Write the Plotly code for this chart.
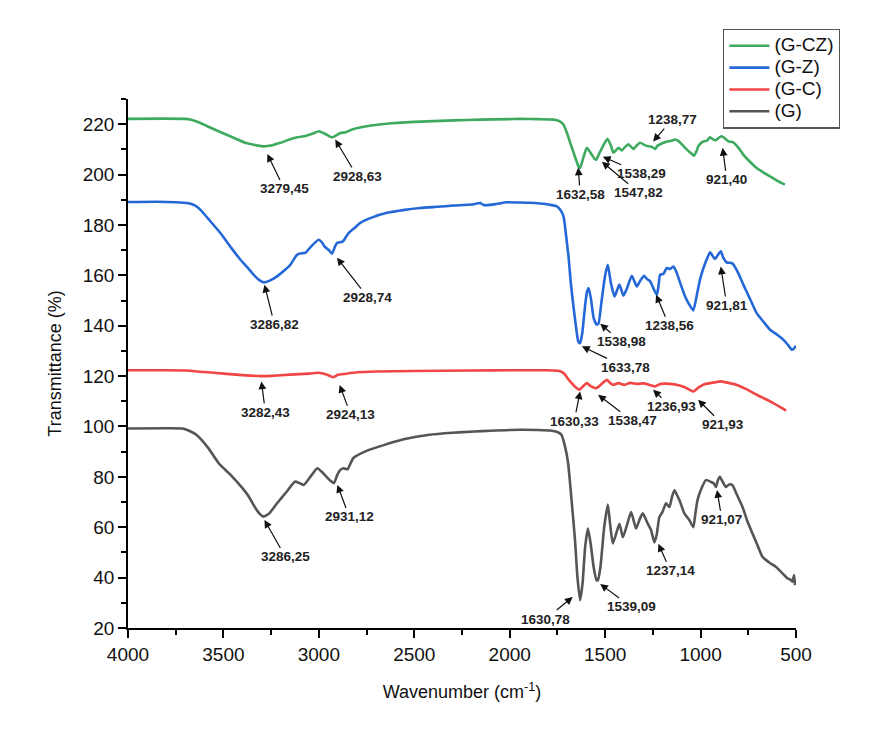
import numpy as np
import plotly.graph_objects as go

# ---------------- data ----------------
wn_gcz = [4000, 3800, 3700, 3670, 3620, 3585, 3520, 3446, 3380, 3320, 3289, 3250, 3202, 3150, 3114, 3071,
          3030, 3001, 2971, 2945, 2931, 2910, 2887, 2860, 2818, 2750, 2643, 2500, 2294, 2150, 2000, 1945,
          1850, 1771, 1740, 1718, 1700, 1683, 1660, 1640, 1632, 1615, 1596, 1575, 1555, 1547, 1530, 1510,
          1488, 1470, 1457, 1430, 1413, 1395, 1378, 1352, 1335, 1317, 1295, 1273, 1255, 1238, 1225, 1212,
          1190, 1169, 1150, 1134, 1115, 1098, 1072, 1050, 1034, 1020, 1012, 990, 967, 950, 935, 920, 905,
          889, 870, 855, 829, 800, 776, 740, 706, 670, 636, 600, 558]
t_gcz = [222.1, 222.2, 222.1, 221.8, 220.5, 219.2, 217.0, 214.6, 212.5, 211.5, 211.2, 211.5, 212.6, 214.0, 214.8, 215.3,
         216.3, 217.2, 216.3, 215.2, 214.8, 215.5, 216.5, 216.8, 218.1, 219.2, 220.2, 220.9, 221.5, 221.8, 222.0, 222.1,
         222.0, 221.8, 221.2, 219.8, 216.5, 212.6, 207.5, 203.3, 202.6, 206.5, 210.6, 208.5, 206.2, 205.9, 208.5, 211.5,
         214.2, 211.5, 208.7, 210.6, 209.6, 211.0, 212.0, 210.2, 211.5, 212.6, 211.8, 211.2, 211.0, 210.2, 211.5, 212.0,
         212.7, 213.2, 213.5, 213.9, 213.3, 212.0, 209.9, 208.5, 207.5, 209.5, 211.2, 213.0, 213.5, 214.8, 214.0, 213.6, 214.6,
         215.2, 214.2, 213.2, 212.8, 210.5, 207.9, 205.0, 202.6, 200.8, 199.3, 197.6, 196.0]

wn_gz = [4000, 3850, 3750, 3690, 3650, 3620, 3580, 3516, 3460, 3411, 3370, 3341, 3310, 3289, 3260, 3219,
         3180, 3149, 3114, 3090, 3071, 3040, 3001, 2985, 2971, 2945, 2931, 2915, 2905, 2885, 2873, 2860,
         2844, 2810, 2783, 2720, 2643, 2550, 2469, 2380, 2294, 2200, 2154, 2140, 2120, 2070, 2015, 1950,
         1900, 1840, 1790, 1753, 1735, 1718, 1705, 1692, 1680, 1666, 1650, 1640, 1631, 1620, 1605, 1595,
         1587, 1575, 1560, 1545, 1535, 1520, 1500, 1486, 1470, 1451, 1438, 1425, 1404, 1385, 1360, 1334,
         1315, 1296, 1280, 1264, 1245, 1229, 1220, 1212, 1195, 1177, 1160, 1142, 1125, 1107, 1081, 1060,
         1038, 1020, 1003, 975, 950, 935, 924, 910, 894, 880, 863, 845, 831, 800, 776, 740, 706, 670, 636,
         600, 566, 540, 522, 510, 500]
t_gz = [189.1, 189.2, 189.0, 188.7, 187.8, 186.0, 182.5, 176.8, 171.0, 166.2, 162.8, 160.2, 158.0, 157.2, 157.8, 159.6,
        162.0, 164.2, 168.2, 168.8, 168.9, 171.5, 174.1, 173.2, 171.5, 169.8, 168.6, 171.5, 172.8, 173.2, 173.5, 175.0,
        176.8, 179.0, 180.8, 183.0, 184.8, 186.0, 186.7, 187.2, 187.7, 188.1, 188.7, 188.0, 187.8, 188.3, 189.0, 188.9,
        188.8, 188.5, 188.0, 187.4, 186.0, 183.4, 176.0, 167.5, 157.0, 147.7, 138.0, 133.5, 133.1, 137.0, 148.0, 153.5,
        155.0, 151.0, 143.0, 140.5, 140.8, 149.0, 160.0, 164.2, 157.0, 151.6, 154.0, 156.3, 151.9, 155.0, 159.8, 155.6,
        158.0, 159.8, 158.5, 157.6, 154.5, 152.3, 156.0, 160.2, 160.5, 162.9, 162.5, 163.5, 161.0, 157.0, 151.6, 148.5,
        146.1, 152.0, 158.3, 165.0, 169.1, 167.5, 166.5, 168.0, 169.5, 166.8, 165.1, 165.0, 164.6, 160.5, 156.3, 150.5,
        145.0, 141.5, 138.4, 136.5, 134.4, 132.2, 130.5, 131.0, 132.0]

wn_gc = [4000, 3800, 3700, 3600, 3500, 3400, 3300, 3250, 3150, 3050, 3000, 2960, 2924, 2900, 2870, 2800,
         2700, 2500, 2200, 2000, 1800, 1740, 1715, 1690, 1660, 1635, 1615, 1596, 1575, 1547, 1520, 1491,
         1470, 1457, 1430, 1400, 1370, 1334, 1300, 1270, 1238, 1215, 1190, 1160, 1120, 1080, 1038, 1010,
         980, 950, 920, 898, 860, 810, 760, 706, 660, 619, 580, 552]
t_gc = [122.3, 122.3, 122.2, 121.6, 121.0, 120.4, 120.0, 120.1, 120.6, 121.0, 121.3, 120.6, 119.6, 120.5, 120.8, 121.5,
        121.8, 122.0, 122.2, 122.3, 122.3, 122.0, 121.0, 118.5, 116.0, 114.6, 116.0, 117.2, 116.0, 115.2, 116.8, 118.5,
        117.0, 116.5, 117.2, 116.5, 117.3, 116.9, 117.1, 116.6, 115.9, 116.8, 117.0, 116.9, 116.5, 115.5, 113.9, 115.5,
        116.8, 117.2, 117.6, 117.9, 117.4, 116.5, 114.8, 112.6, 110.9, 109.3, 107.6, 106.3]

wn_g = [4000, 3800, 3715, 3680, 3642, 3580, 3525, 3460, 3407, 3370, 3337, 3310, 3290, 3260, 3219, 3170,
        3126, 3100, 3079, 3040, 3008, 2985, 2961, 2940, 2921, 2905, 2891, 2870, 2850, 2820, 2750, 2656,
        2550, 2421, 2300, 2186, 2100, 1952, 1850, 1788, 1750, 1729, 1710, 1694, 1675, 1658, 1645, 1631,
        1618, 1605, 1590, 1575, 1560, 1545, 1538, 1525, 1505, 1486, 1475, 1460, 1440, 1425, 1407, 1385,
        1364, 1338, 1320, 1303, 1277, 1260, 1242, 1230, 1216, 1200, 1181, 1163, 1150, 1137, 1125, 1111,
        1085, 1060, 1038, 1028, 1016, 995, 972, 946, 932, 920, 910, 899, 884, 867, 850, 833, 810, 780,
        755, 728, 700, 676, 640, 606, 575, 545, 530, 519, 510, 505]
t_g = [99.2, 99.3, 99.2, 98.3, 96.7, 91.5, 85.4, 80.6, 76.1, 72.5, 68.2, 65.3, 64.2, 65.5, 69.5, 74.0,
       78.1, 77.5, 76.8, 80.5, 83.4, 82.0, 80.1, 78.5, 77.5, 80.5, 82.5, 83.4, 83.0, 87.4, 90.3, 92.7,
       95.0, 96.7, 97.5, 98.0, 98.3, 98.7, 98.6, 98.4, 97.8, 96.7, 92.0, 85.4, 70.0, 55.0, 40.0, 31.0,
       38.0, 52.0, 59.5, 53.0, 44.0, 39.0, 39.0, 44.0, 60.0, 69.0, 62.0, 53.6, 58.0, 61.4, 56.0, 61.0,
       66.0, 59.5, 63.0, 65.5, 61.5, 59.0, 54.0, 57.0, 64.0, 66.0, 69.5, 68.0, 72.0, 74.7, 73.0, 70.8,
       65.5, 63.0, 60.0, 65.0, 70.8, 75.5, 78.7, 78.0, 77.5, 76.0, 78.5, 80.0, 78.0, 76.0, 77.0, 76.7, 73.0, 68.0,
       62.5, 57.5, 52.5, 48.3, 46.0, 44.3, 42.0, 39.7, 39.2, 38.4, 41.0, 37.0]

series_names = ["(G-CZ)", "(G-Z)", "(G-C)", "(G)"]
series_wn = [wn_gcz, wn_gz, wn_gc, wn_g]
series_t = [t_gcz, t_gz, t_gc, t_g]
series_colors = ["#3DAA5E", "#2468D8", "#F04646", "#555555"]

# peak labels: text, arrow-tip wavenumber and transmittance (where each arrow points)
peak_text = ["3279,45", "2928,63", "1632,58", "1547,82", "1538,29", "1238,77", "921,40",
             "3286,82", "2928,74", "1633,78", "1538,98", "1238,56", "921,81",
             "3282,43", "2924,13", "1630,33", "1538,47", "1236,93", "921,93",
             "3286,25", "2931,12", "1630,78", "1539,09", "1237,14", "921,07"]
peak_tip_wn = [3270, 2914, 1641, 1517, 1512, 1249, 884,
               3285, 2905, 1622, 1526, 1233, 894,
               3301, 2891, 1631, 1537, 1249, 1013,
               3285, 2903, 1670, 1526, 1221, 914]
peak_tip_t = [208.2, 213.9, 202.8, 205.1, 207.1, 213.1, 210.6,
              156.3, 167.0, 131.8, 140.8, 152.3, 163.5,
              117.9, 116.5, 113.9, 112.6, 114.6, 110.6,
              62.9, 76.8, 32.3, 37.5, 53.4, 74.8]
# label offsets (pixels, text centre relative to arrow tip)
label_dx = [17, 22, 2, 37, 39, 19, 4,
            10, 31, 44, 21, 13, 6,
            4, 11, -6, 34, 18, 25,
            21, 12, -27, 31, 12, 5]
label_dy = [35, 37, 27, 31, 17, -22, 32,
            40, 40, 21, 18, 31, 39,
            31, 30, 30, 26, 17, 25,
            37, 32, 22, 23, 27, 30]

fig = go.Figure()
for name, x, y, c in zip(series_names, series_wn, series_t, series_colors):
    fig.add_trace(go.Scatter(x=x, y=y, mode="lines",
                             name="<span style='font-size:19px'>" + name + "</span>",
                             line=dict(color=c, width=2.6, shape="spline", smoothing=0.5)))

# pixel scale of the axes, used to place each label tail in data units
plot_w = 870 - 128 - 74
plot_h = 748 - 99 - 120
px_per_wn = plot_w / (4000 - 500)
px_per_t = plot_h / (230 - 20)

annotations = []
for txt, xw, yt, dx, dy in zip(peak_text, peak_tip_wn, peak_tip_t, label_dx, label_dy):
    annotations.append(dict(x=xw, y=yt, xref="x", yref="y", text="<b>" + txt + "</b>",
                            showarrow=True,
                            ax=xw - dx / px_per_wn, ay=yt - dy / px_per_t, axref="x", ayref="y",
                            arrowhead=2, arrowsize=1.3, arrowwidth=1.2, arrowcolor="#111111",
                            standoff=0,
                            font=dict(family="Liberation Sans, Arial", size=13.5, color="#222222")))

axis_font = dict(family="Liberation Sans, Arial", size=19, color="#111111")
fig.update_layout(
    width=870, height=748,
    margin=dict(l=128, r=74, t=99, b=120),
    paper_bgcolor="white", plot_bgcolor="white",
    annotations=annotations,
    showlegend=True,
    legend=dict(x=0.891, y=1.133, xanchor="left", yanchor="top",
                bordercolor="#555555", borderwidth=1.2, bgcolor="white",
                font=dict(family="Liberation Sans, Arial", size=14.5, color="#111111"),
                itemwidth=40, tracegroupgap=0),
    xaxis=dict(range=[4000, 500], tickmode="linear", tick0=500, dtick=500,
               ticks="outside", ticklen=8, tickwidth=1.5, tickcolor="black",
               minor=dict(dtick=250, ticks="outside", ticklen=5, tickwidth=1.5, tickcolor="black"),
               showline=True, linecolor="black", linewidth=1.5, showgrid=False, zeroline=False,
               tickfont=axis_font,
               title=dict(text="Wavenumber (cm<sup>-1</sup>)", font=dict(family="Liberation Sans, Arial", size=18, color="#111111"), standoff=22)),
    yaxis=dict(range=[20, 230], tickmode="linear", tick0=20, dtick=20,
               ticks="outside", ticklen=8, tickwidth=1.5, tickcolor="black",
               minor=dict(dtick=10, ticks="outside", ticklen=5, tickwidth=1.5, tickcolor="black"),
               showline=True, linecolor="black", linewidth=1.5, showgrid=False, zeroline=False,
               tickfont=axis_font,
               title=dict(text="Transmittance (%)", font=dict(family="Liberation Sans, Arial", size=18, color="#111111"), standoff=16)),
)

fig.write_html("out.html")
